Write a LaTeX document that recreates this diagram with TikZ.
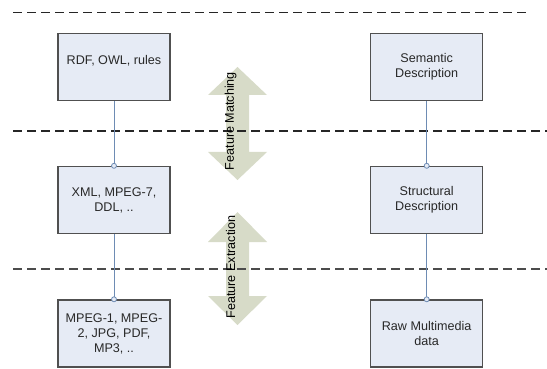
\documentclass[tikz,border=0pt]{standalone}
\usepackage{fontspec}
\setmainfont{Liberation Sans}
\definecolor{boxfill}{RGB}{230,235,245}
\definecolor{boxline}{RGB}{80,80,80}
\definecolor{connc}{RGB}{110,140,180}
\definecolor{arrowc}{RGB}{215,219,200}
\definecolor{txt}{RGB}{40,40,40}
\tikzset{
  box/.style={draw=boxline, line width=1.4pt, fill=boxfill, minimum width=112pt,
    minimum height=67pt, align=center, text=txt, inner sep=0pt,
    font=\fontsize{12.6}{15}\selectfont},
  conn/.style={draw=connc, line width=0.9pt},
  endring/.style={draw=connc, line width=0.8pt, fill=boxfill},
  sepline/.style={dash pattern=on 9pt off 5pt, line width=1.3pt},
  bigarrow/.style={fill=arrowc},
  lbl/.style={rotate=90, inner sep=0pt, text=black, font=\fontsize{12.6}{15}\selectfont}
}
\begin{document}
\begin{tikzpicture}[x=1pt, y=-1pt]
\useasboundingbox (0,0) rectangle (547,369);
% big double arrows
\fill[bigarrow] (237.5,67) -- (267,95) -- (249,95) -- (249,152) -- (267,152) -- (237.5,180)
  -- (208,152) -- (226,152) -- (226,95) -- (208,95) -- cycle;
\fill[bigarrow] (237.5,212) -- (267,242) -- (249,242) -- (249,296) -- (267,296) -- (237.5,325)
  -- (208,296) -- (226,296) -- (226,242) -- (208,242) -- cycle;
% separators
\draw[sepline, black!85] (13,12.5) -- (528,12.5);
\draw[sepline, black!85] (13,131) -- (547,131);
\draw[sepline, black!70] (13,269) -- (547,269);
% arrow labels
\node[lbl] (fm) at (230.5,121) {Feature Matching};
\node[lbl] (fe) at (230.5,267) {Feature Extraction};
% boxes
\node[box] (rdf) at (114,67) {RDF, OWL, rules\\~};
\node[box] (xml) at (114,200) {XML, MPEG-7,\\DDL, ..};
\node[box] (mpg) at (114,333.5) {MPEG-1, MPEG-\\2, JPG, PDF,\\MP3, ..};
\node[box] (sem) at (426.7,67) {Semantic\\Description};
\node[box] (str) at (426.7,200) {Structural\\Description};
\node[box] (raw) at (426.7,333.5) {Raw Multimedia\\data};
% connectors
\draw[conn] (rdf.south) -- (xml.north);
\draw[conn] (xml.south) -- (mpg.north);
\draw[conn] (sem.south) -- (str.north);
\draw[conn] (str.south) -- (raw.north);
\draw[endring] (xml.north) circle (2.5pt);
\draw[endring] (mpg.north) circle (2.5pt);
\draw[endring] (str.north) circle (2.5pt);
\draw[endring] (raw.north) circle (2.5pt);
\end{tikzpicture}
\end{document}
